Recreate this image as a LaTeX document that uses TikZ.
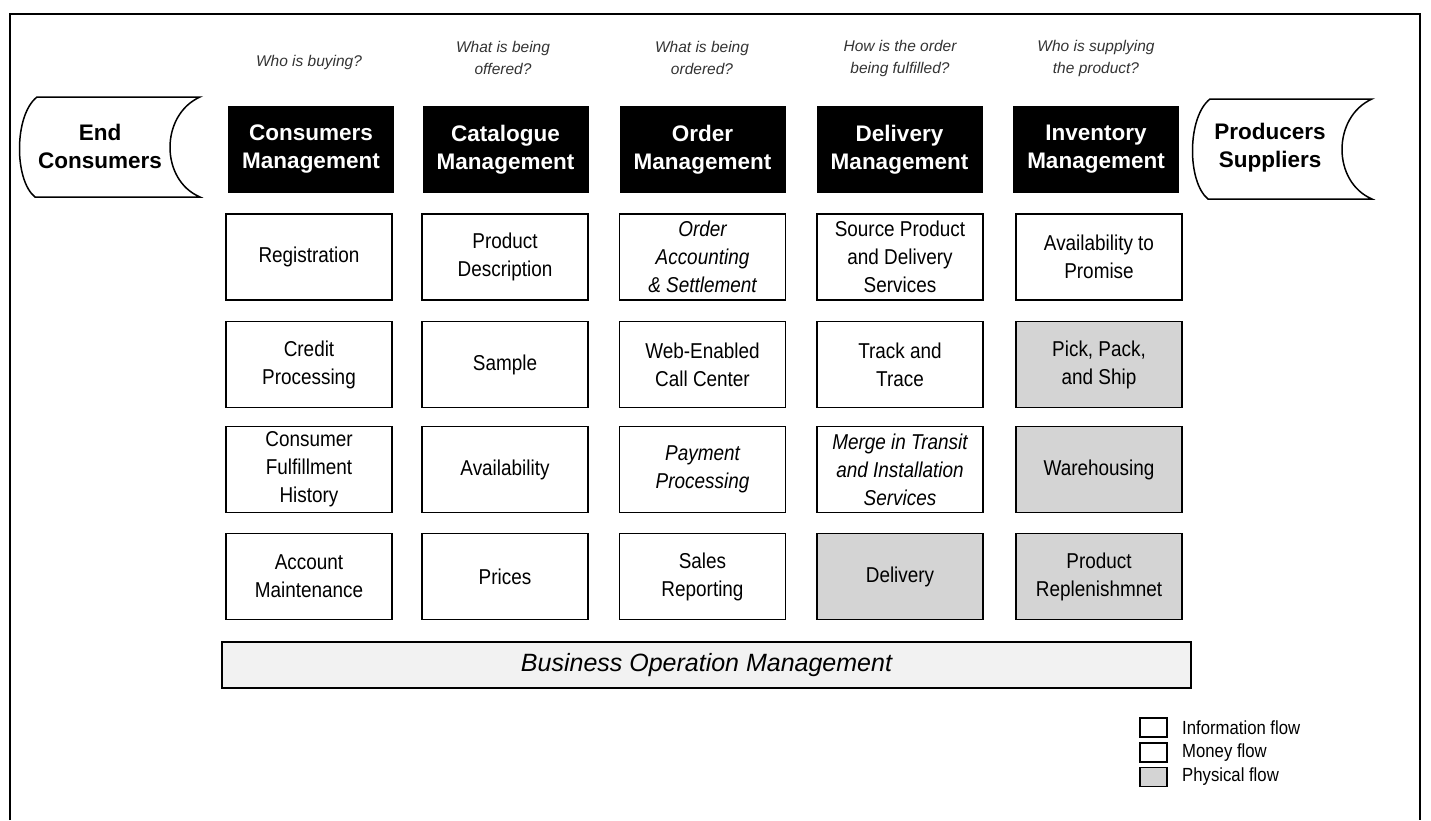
\documentclass[tikz,border=0pt]{standalone}
\usepackage{fontspec}
\setmainfont{Liberation Sans}
\newfontfamily\cellfont[FakeStretch=0.88]{Liberation Sans}
\begin{document}
\begin{tikzpicture}[x=1pt,y=-1pt,
  hdr/.style={fill=black,text=white,minimum width=166pt,minimum height=87pt,align=center,inner sep=0pt,font=\fontsize{22.5}{28}\selectfont\bfseries},
  cell/.style={draw=black,line width=1.5pt,fill=white,minimum width=166pt,minimum height=86pt,align=center,inner sep=0pt,font=\cellfont\fontsize{21.5}{28}\selectfont},
  phys/.style={cell,fill=black!17},
  ques/.style={align=center,inner sep=0pt,text=black!80,font=\fontsize{15.5}{22}\selectfont\itshape},
  ext/.style={draw=black,line width=1.5pt},
  extlabel/.style={align=center,inner sep=0pt,font=\fontsize{22.5}{28}\selectfont\bfseries},
  legbox/.style={draw=black,line width=1.4pt,minimum width=27pt,minimum height=19pt,inner sep=0pt},
  legtext/.style={anchor=west,inner sep=0pt,font=\cellfont\fontsize{19}{20}\selectfont}]
\useasboundingbox (0,0) rectangle (1431,820);
% frame
\draw[line width=2.5pt] (10,820) -- (10,14) -- (1420,14) -- (1420,820);

% questions
\node[ques] (q1) at (309,62) {Who is buying?};
\node[ques] (q2) at (503,58) {What is being\\offered?};
\node[ques] (q3) at (702,58) {What is being\\ordered?};
\node[ques] (q4) at (900,58) {How is the order\\being fulfilled?};
\node[ques] (q5) at (1096,58) {Who is supplying\\the product?};

% external entities
\draw[ext] (37,97) -- (200,97) .. controls (160,115) and (160,180) .. (200,197)
  -- (35,197) .. controls (14,180) and (14,115) .. cycle;
\node[extlabel] (endc) at (100,146) {End\\Consumers};
\draw[ext] (1210,99) -- (1372,99) .. controls (1332,117) and (1332,182) .. (1372,199)
  -- (1208,199) .. controls (1187,182) and (1187,117) .. cycle;
\node[extlabel] (prod) at (1270,148) {Producers\\Suppliers};

% headers
\node[hdr] (h1) at (311,149.5) {Consumers\\Management};
\node[hdr] (h2) at (505.5,149.5) {Catalogue\\Management};
\node[hdr] (h3) at (702.5,149.5) {Order\\Management};
\node[hdr] (h4) at (899.5,149.5) {Delivery\\Management};
\node[hdr] (h5) at (1096,149.5) {Inventory\\Management};

% row 1
\node[cell] (c11) at (309,257) {Registration};
\node[cell] (c21) at (505,257) {Product\\Description};
\node[cell] (c31) at (702.5,257) {\itshape Order\\\itshape Accounting\\\itshape \& Settlement};
\node[cell] (c41) at (900,257) {Source Product\\and Delivery\\Services};
\node[cell] (c51) at (1099,257) {Availability to\\Promise};
% row 2
\node[cell] (c12) at (309,364.5) {Credit\\Processing};
\node[cell] (c22) at (505,364.5) {Sample};
\node[cell] (c32) at (702.5,364.5) {Web-Enabled\\Call Center};
\node[cell] (c42) at (900,364.5) {Track and\\Trace};
\node[phys] (c52) at (1099,364.5) {Pick, Pack,\\and Ship};
% row 3
\node[cell] (c13) at (309,469.5) {Consumer\\Fulfillment\\History};
\node[cell] (c23) at (505,469.5) {Availability};
\node[cell] (c33) at (702.5,469.5) {\itshape Payment\\\itshape Processing};
\node[cell] (c43) at (900,469.5) {\itshape Merge in Transit\\\itshape and Installation\\\itshape Services};
\node[phys] (c53) at (1099,469.5) {Warehousing};
% row 4
\node[cell] (c14) at (309,576.5) {Account\\Maintenance};
\node[cell] (c24) at (505,576.5) {Prices};
\node[cell] (c34) at (702.5,576.5) {Sales\\Reporting};
\node[phys] (c44) at (900,576.5) {Delivery};
\node[phys] (c54) at (1099,576.5) {Product\\Replenishmnet};

% business bar
\node[cell,fill=black!5,minimum width=969pt,minimum height=46pt,font=\fontsize{25}{30}\selectfont\itshape] (bom) at (706.5,665) {Business Operation Management};

% legend
\node[legbox] (l1) at (1153.5,727.5) {};
\node[legbox] (l2) at (1153.5,752.5) {};
\node[legbox,fill=black!17] (l3) at (1153.5,777) {};
\node[legtext] (t1) at (1182,727.5) {Information flow};
\node[legtext] (t2) at (1182,752.5) {Money flow};
\node[legtext] (t3) at (1182,777) {Physical flow};
\end{tikzpicture}
\end{document}
